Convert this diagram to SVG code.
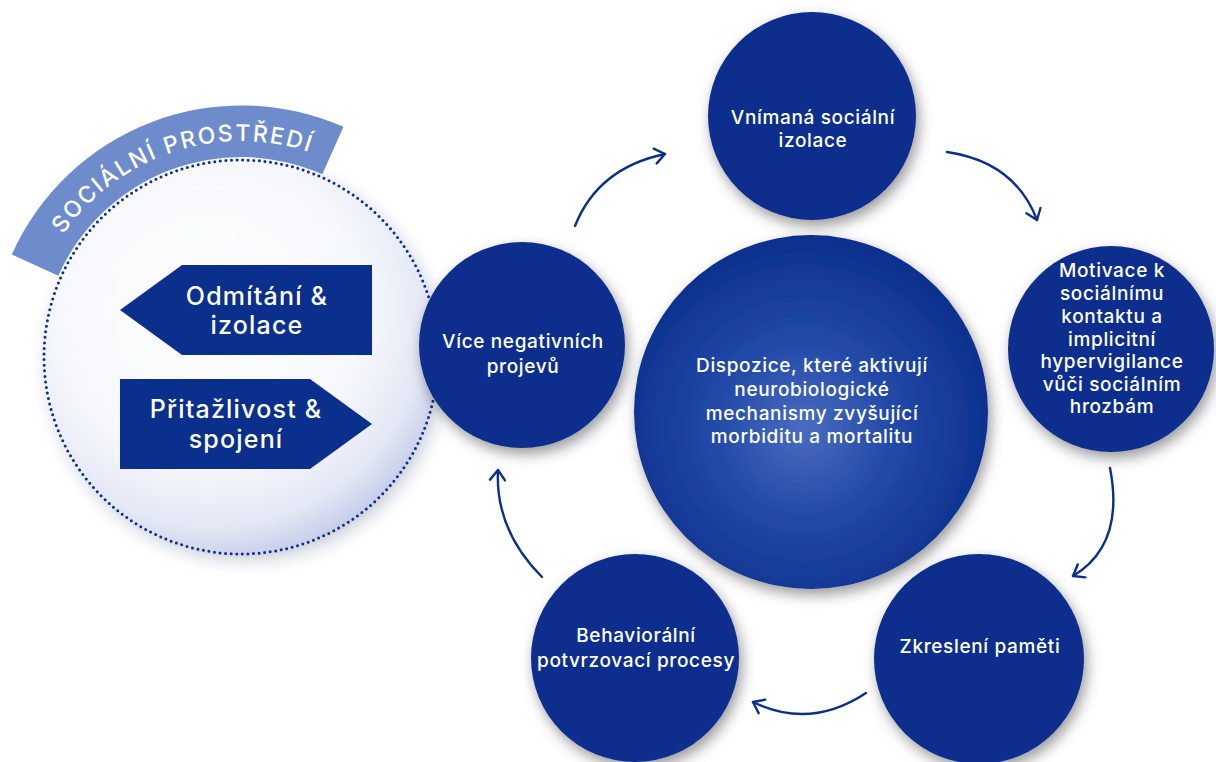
<svg xmlns="http://www.w3.org/2000/svg" width="1216" height="762" viewBox="0 0 1216 762">
<defs>
<style>
.node{fill:#0b2f8c;}
.t{font-family:Inter,"Open Sans","Liberation Sans",sans-serif;fill:#ffffff;text-anchor:middle;font-weight:500;}
.s18{font-size:19px;letter-spacing:0.65px;}
.s24{font-size:25px;letter-spacing:1.2px;}
.conn{fill:none;stroke:#0b2f8c;stroke-width:2.4;stroke-linecap:round;}
</style>
<filter id="sh" x="-30%" y="-30%" width="160%" height="160%">
<feDropShadow dx="3" dy="6" stdDeviation="7" flood-color="#000" flood-opacity="0.4"/>
</filter>
<filter id="sh2" x="-30%" y="-30%" width="160%" height="160%">
<feDropShadow dx="4" dy="6" stdDeviation="8" flood-color="#1a2a60" flood-opacity="0.25"/>
</filter>
<radialGradient id="gLeft" cx="0.42" cy="0.38" r="0.65">
<stop offset="0" stop-color="#ffffff"/>
<stop offset="0.6" stop-color="#f7f8fc"/>
<stop offset="0.85" stop-color="#e4e8f5"/>
<stop offset="1" stop-color="#c3cbe8"/>
</radialGradient>
<radialGradient id="gCenter" cx="0.48" cy="0.55" r="0.55">
<stop offset="0" stop-color="#4a6cbf"/>
<stop offset="0.45" stop-color="#234aa8"/>
<stop offset="1" stop-color="#0b2f8c"/>
</radialGradient>
<marker id="ah" viewBox="-12 -9 14 18" refX="0" refY="0" markerWidth="14" markerHeight="18" markerUnits="userSpaceOnUse" orient="auto">
<path d="M-10,-7.5 L0,0 L-10,7.5" fill="none" stroke="#0b2f8c" stroke-width="2.4" stroke-linecap="round" stroke-linejoin="round"/>
</marker>
<path id="bannerArc" d="M43.7,269.2 A216,216 0 0,1 328.8,159.7"/>
</defs>
<rect width="1216" height="762" fill="#ffffff"/>

<g id="n-social">
<circle cx="241" cy="357" r="197" fill="url(#gLeft)" filter="url(#sh2)"/>
<circle cx="241" cy="357" r="197" fill="none" stroke="#0b2f8c" stroke-width="3" stroke-dasharray="0 5.6" stroke-linecap="round"/>
<path d="M11.8,254.5 A252,252 0 0,1 343.5,126.8 L322.3,174.3 A200,200 0 0,0 58.3,275.7 Z" fill="#6e8bcb"/>
<text class="t" style="font-size:23px;letter-spacing:2px;font-weight:500"><textPath href="#bannerArc" startOffset="53%">SOCIÁLNÍ PROSTŘEDÍ</textPath></text>
</g>

<g id="n-reject">
<polygon class="node" points="120,310 182,265 372,265 372,355 182,355"/>
<text class="t s24" x="257" y="305">Odmítání &amp;</text>
<text class="t s24" x="257" y="334">izolace</text>
</g>

<g id="n-attract">
<polygon class="node" points="120,379 310,379 372,424 310,469 120,469"/>
<text class="t s24" x="236" y="418">Přitažlivost &amp;</text>
<text class="t s24" x="236" y="448">spojení</text>
</g>

<g id="n-center">
<circle cx="811" cy="412" r="177" fill="url(#gCenter)" filter="url(#sh)"/>
<text class="t s18" x="812" y="372">Dispozice, které aktivují</text>
<text class="t s18" x="812" y="396">neurobiologické</text>
<text class="t s18" x="812" y="420">mechanismy zvyšující</text>
<text class="t s18" x="812" y="443">morbiditu a mortalitu</text>
</g>

<g id="n-vnimana">
<circle class="node" cx="812" cy="116" r="104" filter="url(#sh)"/>
<text class="t s18" x="813" y="124">Vnímaná sociální</text>
<text class="t s18" x="813" y="147">izolace</text>
</g>

<g id="n-motivace">
<circle class="node" cx="1111" cy="349" r="103" filter="url(#sh)"/>
<text class="t s18" x="1112" y="277">Motivace k</text>
<text class="t s18" x="1112" y="300">sociálnímu</text>
<text class="t s18" x="1112" y="323">kontaktu a</text>
<text class="t s18" x="1112" y="346">implicitní</text>
<text class="t s18" x="1112" y="368">hypervigilance</text>
<text class="t s18" x="1112" y="391">vůči sociálním</text>
<text class="t s18" x="1112" y="413">hrozbám</text>
</g>

<g id="n-zkresleni">
<circle class="node" cx="979" cy="659" r="105" filter="url(#sh)"/>
<text class="t s18" x="980" y="653">Zkreslení paměti</text>
</g>

<g id="n-behavior">
<circle class="node" cx="635" cy="658" r="104" filter="url(#sh)"/>
<text class="t s18" x="636" y="642">Behaviorální</text>
<text class="t s18" x="636" y="667">potvrzovací procesy</text>
</g>

<g id="n-vice">
<circle class="node" cx="522" cy="345" r="103" filter="url(#sh)"/>
<text class="t s18" x="523" y="348">Více negativních</text>
<text class="t s18" x="523" y="373">projevů</text>
</g>

<g id="connectors">
<path class="conn" d="M575,226 Q598,168 665,154" marker-end="url(#ah)"/>
<path class="conn" d="M947,152 Q1015,162 1037,220" marker-end="url(#ah)"/>
<path class="conn" d="M1110,468 Q1125,545 1073,576" marker-end="url(#ah)"/>
<path class="conn" d="M866,693 Q810,730 753,702" marker-end="url(#ah)"/>
<path class="conn" d="M542,577 Q495,530 498,470" marker-end="url(#ah)"/>
</g>
</svg>
